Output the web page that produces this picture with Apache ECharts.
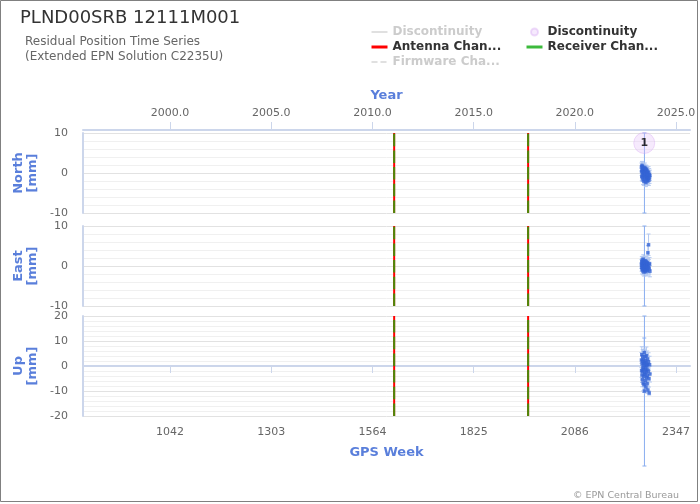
<!DOCTYPE html>
<html><head><meta charset="utf-8">
<script src="https://cdn.jsdelivr.net/npm/echarts@6/dist/echarts.min.js"></script>
<style>html,body{margin:0;padding:0;background:#fff}#c{width:700px;height:504px}</style>
</head><body><div id="c"></div>
<script>
const TITLE = 'PLND00SRB 12111M001';
const SUBTITLE = 'Residual Position Time Series\n(Extended EPN Solution C2235U)';
const COPYRIGHT = '\u00a9 EPN Central Bureau';
const WEEK_MIN = 817.5, WEEK_MAX = 2383;
const YEAR_MIN = 1995.70, YEAR_MAX = 2025.69;
const WEEK_TICKS = [1042, 1303, 1564, 1825, 2086, 2347];
const YEAR_TICKS = [2000, 2005, 2010, 2015, 2020, 2025];
const COMPONENTS = ['North', 'East', 'Up'];
const Y_RANGES = [10, 10, 20];
const ANTENNA_WEEKS = [1620, 1965.5];
const RECEIVER_WEEKS = [1620, 1965.5];
const FIRMWARE_WEEKS = [];
const DISC_WEEKS = [2265.0];
const DISC_LABELS = ['1'];
const DISC_Y = 7.5;

const weeks = [2257.8, 2258.2, 2258.7, 2259.1, 2259.5, 2259.9, 2260.4, 2260.8, 2261.2, 2261.6, 2262.1, 2262.5, 2262.9, 2263.4, 2263.8, 2264.2, 2264.6, 2265.1, 2265.5, 2265.9, 2266.3, 2266.8, 2267.2, 2267.6, 2268.0, 2268.5, 2268.9, 2269.3, 2269.7, 2270.2, 2270.6, 2271.0, 2271.4, 2271.9, 2272.3, 2272.7, 2273.1, 2273.6, 2274.4, 2275.3, 2276.1, 2277.0, 2277.8, 2278.7, 2279.6];
const north = [1.5, 0.3, -0.8, 1.9, 0.7, -1.2, 0.9, 1.6, -0.4, 0.2, -1.7, 0.6, 1.2, -0.6, 0.4, -2.1, 1.0, 0.1, 0.0, -0.9, 1.4, -0.2, 0.8, -1.4, 0.3, 1.1, -0.5, -2.4, 0.6, -1.0, 0.2, 0.9, -1.6, -0.3, 0.5, -1.1, -2.0, 0.1, -0.7, -1.3, 0.2, -1.8, -0.4, -1.2, -0.6];
const northSig = [1.0, 0.9, 1.1, 1.0, 1.2, 0.9, 1.0, 1.1, 0.9, 1.0, 1.2, 1.0, 0.9, 1.1, 1.0, 1.0, 1.2, 0.9, 10.0, 1.0, 1.1, 0.9, 1.0, 1.2, 1.0, 0.9, 1.1, 1.0, 1.0, 1.2, 0.9, 1.0, 1.1, 1.0, 0.9, 1.2, 1.0, 1.1, 1.3, 1.2, 1.4, 1.3, 1.5, 1.4, 1.3];
const east = [0.5, -0.3, 1.1, 0.2, -0.9, 1.5, 0.7, -0.4, 0.3, -1.2, 0.8, 1.7, -0.6, 0.1, 1.0, -1.5, 0.4, -0.2, 0.0, 0.9, -0.8, 1.3, 0.2, -1.0, 0.6, -0.1, 1.2, -1.4, 0.3, 0.7, -0.5, 1.0, -0.9, 0.4, -0.2, 0.8, -1.1, 0.5, 3.3, -0.4, 5.3, 0.2, -0.7, 0.6, -1.3];
const eastSig = [1.1, 1.0, 1.2, 1.0, 1.1, 0.9, 1.2, 1.0, 1.1, 1.0, 1.2, 1.1, 1.0, 1.1, 1.0, 1.0, 1.2, 1.0, 10.0, 1.1, 1.0, 1.2, 1.1, 1.0, 1.1, 1.0, 1.2, 1.1, 1.0, 1.2, 1.1, 1.0, 1.1, 1.2, 1.0, 1.1, 1.2, 1.1, 1.8, 1.3, 2.7, 1.4, 1.3, 1.5, 1.4];
const up = [2.4, -1.8, 4.5, -3.6, 0.8, -5.4, 1.9, -2.2, 3.7, -0.6, -6.8, 2.6, -1.2, 1.0, -4.1, 0.3, -7.5, 5.4, -10.0, -2.8, 1.5, -3.4, 3.8, -1.6, -5.8, 2.1, -0.3, -8.4, 1.2, -2.5, 4.1, -4.6, 0.2, -1.3, -7.0, 2.8, -3.9, 0.6, -9.6, -2.0, 1.7, -5.1, -10.8, 0.5, -3.2];
const upSig = [3.0, 2.8, 3.2, 3.0, 3.4, 2.9, 3.1, 3.3, 2.9, 3.0, 3.2, 3.1, 2.8, 3.0, 3.3, 3.0, 3.1, 5.8, 30.0, 3.0, 3.2, 2.9, 3.0, 3.3, 3.1, 2.8, 3.0, 2.4, 3.2, 3.0, 3.5, 3.1, 2.9, 3.0, 3.3, 3.2, 3.0, 3.4, 1.2, 3.1, 3.6, 3.3, 0.8, 3.4, 3.2];

const VALUES = [north, east, up];
const SIGMAS = [northSig, eastSig, upSig];

const FONT = 'DejaVu Sans';
const NAME_COLOR = '#5a7fdb';
const AXIS_COLOR = '#ccd6eb';
const LABEL_COLOR = '#666';

const chart = echarts.init(document.getElementById('c'), null, {renderer: 'canvas'});

const grids = [
  {left: 83, top: 133, width: 607, height: 80},
  {left: 83, top: 226, width: 607, height: 80},
  {left: 83, top: 316, width: 607, height: 100}
];

const xAxes = [0, 1].map(i => ({type: 'value', gridIndex: i, min: WEEK_MIN, max: WEEK_MAX, show: false}));
xAxes.push({
  type: 'value', gridIndex: 2, min: WEEK_MIN, max: WEEK_MAX, position: 'bottom',
  axisLine: {show: true, lineStyle: {color: AXIS_COLOR, width: 2}},
  axisTick: {show: true, customValues: WEEK_TICKS, length: 7, lineStyle: {color: AXIS_COLOR}},
  axisLabel: {customValues: WEEK_TICKS, formatter: v => String(v), color: LABEL_COLOR, fontSize: 11, margin: 11, fontFamily: FONT},
  splitLine: {show: false},
  name: 'GPS Week', nameLocation: 'middle', nameGap: 30,
  nameTextStyle: {color: NAME_COLOR, fontWeight: 'bold', fontSize: 13, fontFamily: FONT}
});
xAxes.push({
  type: 'value', gridIndex: 0, min: YEAR_MIN, max: YEAR_MAX, position: 'top', offset: 3,
  axisLine: {show: true, lineStyle: {color: AXIS_COLOR, width: 2}},
  axisTick: {show: true, customValues: YEAR_TICKS, length: 8, lineStyle: {color: AXIS_COLOR}},
  axisLabel: {customValues: YEAR_TICKS, formatter: v => v.toFixed(1), color: LABEL_COLOR, fontSize: 11, margin: 11, fontFamily: FONT},
  splitLine: {show: false},
  name: 'Year', nameLocation: 'middle', nameGap: 28,
  nameTextStyle: {color: NAME_COLOR, fontWeight: 'bold', fontSize: 13, fontFamily: FONT}
});

const yAxes = COMPONENTS.map((c, i) => ({
  type: 'value', gridIndex: i, min: -Y_RANGES[i], max: Y_RANGES[i], interval: 10,
  axisLine: {show: true, lineStyle: {color: AXIS_COLOR, width: 2}},
  axisTick: {show: false},
  axisLabel: {color: LABEL_COLOR, fontSize: 11, margin: 15, fontFamily: FONT},
  splitLine: {show: true, lineStyle: {color: '#e2e2e2'}},
  minorTick: {show: false, splitNumber: 5},
  minorSplitLine: {show: true, lineStyle: {color: '#f0f0f0'}},
  name: c + '\n[mm]', nameLocation: 'middle', nameRotate: 90, nameGap: 38,
  nameTextStyle: {color: NAME_COLOR, fontWeight: 'bold', fontSize: 13, lineHeight: 14, fontFamily: FONT}
}));

const series = [];
function changeLines(name, list, style) {
  COMPONENTS.forEach((c, i) => {
    list.forEach(w => {
      series.push({
        type: 'line', name: name, xAxisIndex: i, yAxisIndex: i, symbol: 'none', silent: true,
        data: [[w, -Y_RANGES[i]], [w, Y_RANGES[i]]],
        lineStyle: style, itemStyle: {color: style.color}, z: 3
      });
    });
    if (!list.length) {
      series.push({type: 'line', name: name, xAxisIndex: i, yAxisIndex: i, symbol: 'none', data: [], lineStyle: style, itemStyle: {color: style.color}});
    }
  });
}
changeLines('DiscontinuityLine', DISC_WEEKS, {color: '#8aaef0', width: 1});
changeLines('Antenna Change', ANTENNA_WEEKS, {color: '#ff0000', width: 2});
changeLines('Receiver Change', RECEIVER_WEEKS, {color: '#4a8a0a', width: 2, type: [12.5, 4.2]});
changeLines('Firmware Change', FIRMWARE_WEEKS, {color: '#999999', width: 2, type: [6, 3]});

function errRender(params, api) {
  const x = api.value(0), v = api.value(1), s = api.value(2);
  const hi = api.coord([x, v + s]), lo = api.coord([x, v - s]);
  const st = {stroke: s > 5 ? '#8aaef0' : '#b3c8f0', lineWidth: 1};
  return {type: 'group', children: [
    {type: 'line', shape: {x1: hi[0], y1: hi[1], x2: lo[0], y2: lo[1]}, style: st},
    {type: 'line', shape: {x1: hi[0] - 2, y1: hi[1], x2: hi[0] + 2, y2: hi[1]}, style: st},
    {type: 'line', shape: {x1: lo[0] - 2, y1: lo[1], x2: lo[0] + 2, y2: lo[1]}, style: st}
  ]};
}

COMPONENTS.forEach((c, i) => {
  series.push({
    type: 'custom', name: c + ' sigma', xAxisIndex: i, yAxisIndex: i, clip: false, silent: true,
    renderItem: errRender, encode: {x: 0, y: 1},
    data: weeks.map((w, k) => [w, VALUES[i][k], SIGMAS[i][k]]), z: 4
  });
  series.push({
    type: 'scatter', name: c, xAxisIndex: i, yAxisIndex: i, symbol: 'rect', symbolSize: 3.5, silent: true,
    itemStyle: {color: '#3464d4'},
    data: weeks.map((w, k) => [w, VALUES[i][k]]), z: 5
  });
});

series.push({
  type: 'scatter', name: 'Discontinuity', xAxisIndex: 0, yAxisIndex: 0, symbol: 'circle', symbolSize: 21,
  itemStyle: {color: 'rgba(226,190,248,0.4)', borderColor: 'rgba(210,160,240,0.45)', borderWidth: 1},
  label: {show: true, position: 'inside', formatter: p => DISC_LABELS[p.dataIndex], color: '#000', fontWeight: 'bold', fontSize: 11, fontFamily: FONT},
  data: DISC_WEEKS.map(w => [w, DISC_Y]), z: 6
});

const legendText = {fontWeight: 'bold', fontSize: 12, color: '#333', width: 110.5, overflow: 'truncate', lineHeight: 14, fontFamily: FONT};
const option = {
  animation: false,
  backgroundColor: '#fff',
  textStyle: {fontFamily: FONT},
  title: [
    {text: TITLE, left: 20, top: 9, padding: 0, textStyle: {fontSize: 18, fontWeight: 'normal', color: '#333', fontFamily: FONT}},
    {text: SUBTITLE, left: 25, top: 35, padding: 0, textStyle: {fontSize: 12, fontWeight: 'normal', color: '#666', lineHeight: 14.5, fontFamily: FONT}}
  ],
  legend: [
    {
      left: 370, top: 25, orient: 'vertical', itemWidth: 16, itemHeight: 14, itemGap: 1, padding: 0,
      inactiveColor: '#cccccc',
      inactiveBorderColor: '#e0e0e0',
      itemStyle: {opacity: 0},
      lineStyle: {width: 3, inactiveColor: '#e0e0e0'},
      data: [
        {name: 'DiscontinuityLine'},
        {name: 'Antenna Change'},
        {name: 'Firmware Change', lineStyle: {type: [6, 3], width: 2}}
      ],
      formatter: n => n === 'DiscontinuityLine' ? 'Discontinuity' : n,
      selected: {'DiscontinuityLine': false, 'Firmware Change': false},
      textStyle: legendText
    },
    {
      left: 525, top: 25, orient: 'vertical', itemWidth: 16, itemHeight: 7, itemGap: 1, padding: 0,
      data: [
        {name: 'Discontinuity'},
        {name: 'Receiver Change', lineStyle: {color: '#3cba3c', type: 'solid', width: 3}, itemStyle: {opacity: 0},
         textStyle: Object.assign({}, legendText, {width: 113})}
      ],
      textStyle: legendText
    }
  ],
  grid: grids,
  xAxis: xAxes,
  yAxis: yAxes,
  series: series,
  graphic: [
    {type: 'rect', silent: true, z: -10, shape: {x: 0.5, y: 0.5, width: 697, height: 501}, style: {fill: 'none', stroke: '#808080', lineWidth: 1}},
    {type: 'text', silent: true, style: {x: 679, y: 496, text: COPYRIGHT, textAlign: 'right', textVerticalAlign: 'middle', fill: '#999', font: '9.5px "DejaVu Sans"'}}
  ]
};
chart.setOption(option);
</script>
</body></html>
